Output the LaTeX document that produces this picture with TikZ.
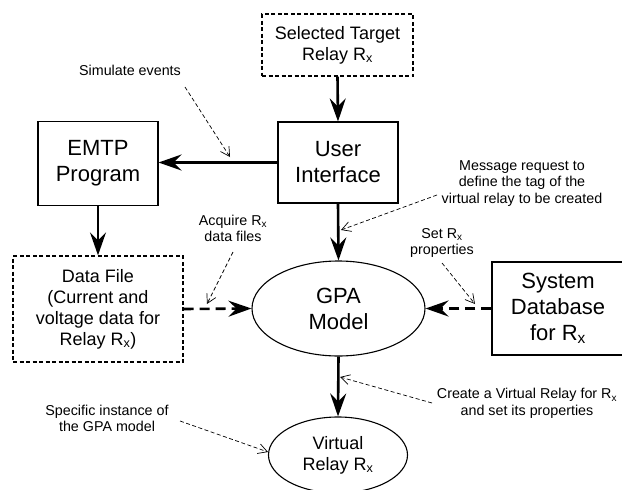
\documentclass[tikz,border=0pt]{standalone}
\usepackage{fontspec}
\setmainfont{Liberation Sans}
\usetikzlibrary{arrows.meta,shapes.geometric}
\begin{document}
\begin{tikzpicture}[x=1pt,y=-1pt,
  box/.style={draw,line width=1.1pt,inner sep=0pt,align=center},
  bigtext/.style={font=\fontsize{22}{26}\selectfont},
  midtext/.style={font=\fontsize{18}{21}\selectfont},
  notetext/.style={font=\fontsize{14.3}{16.6}\selectfont,align=center,inner sep=0pt},
  dbox/.style={box,dash pattern=on 4pt off 2.5pt,line width=1.3pt},
  oval/.style={draw,ellipse,line width=1.1pt,inner sep=0pt,align=center},
  mainarrow/.style={line width=2.6pt,-{Stealth[length=23pt,width=16pt,inset=8pt]}},
  dasharrow/.style={mainarrow,dash pattern=on 10pt off 6pt},
  notearrow/.style={line width=0.7pt,dash pattern=on 4pt off 2.5pt,-{Straight Barb[length=9pt,width=10pt,line width=0.7pt]}}
]
\useasboundingbox (0,0) rectangle (622,490);
\fill[white] (0,0) rectangle (622,490);

\node[dbox,midtext,minimum width=151pt,minimum height=62pt] (sel) at (337.5,45) {Selected Target\\Relay R\textsubscript{x}};
\node[box,bigtext,minimum width=120pt,minimum height=81pt] (ui) at (338,162.5) {User\\Interface};
\node[box,bigtext,minimum width=120pt,minimum height=84pt] (emtp) at (98,163.5) {EMTP\\Program};
\node[dbox,midtext,minimum width=170pt,minimum height=106pt] (data) at (98,309) {Data File\\(Current and\\voltage data for\\Relay R\textsubscript{x})};
\node[oval,bigtext,minimum width=173pt,minimum height=95pt] (gpa) at (338.5,308.5) {GPA\\Model};
\node[box,bigtext,minimum width=132pt,minimum height=93pt] (sys) at (558,308.5) {System\\Database\\for R\textsubscript{x}};
\node[oval,midtext,minimum width=139pt,minimum height=76pt] (vr) at (338,455) {Virtual\\Relay R\textsubscript{x}};

\draw[mainarrow] (sel.south) -- (ui.north);
\draw[mainarrow] (ui.west) -- (emtp.east |- ui.west);
\draw[mainarrow] (emtp.south) -- (data.north);
\draw[mainarrow] (ui.south) -- (gpa.north);
\draw[dasharrow] (data.east) -- (gpa.west);
\draw[dasharrow] (sys.west) -- (gpa.east);
\draw[mainarrow] (gpa.south) -- (vr.north);

\node[notetext] (n1) at (130,70) {Simulate events};
\node[notetext] (n2) at (233,228.5) {Acquire R\textsubscript{x}\\data files};
\node[notetext] (n3) at (522,183.5) {Message request to\\define the tag of the\\virtual relay to be created};
\node[notetext] (n4) at (442,243) {Set R\textsubscript{x}\\properties};
\node[notetext] (n5) at (527,403.5) {Create a Virtual Relay for R\textsubscript{x}\\and set its properties};
\node[notetext] (n6) at (107,418.5) {Specific instance of\\the GPA model};

\coordinate (a1s) at (185,87);  \coordinate (a1e) at (230,157);
\coordinate (a2s) at (233,252); \coordinate (a2e) at (207,304);
\coordinate (a3s) at (437,195); \coordinate (a3e) at (341,230);
\coordinate (a4s) at (442,263); \coordinate (a4e) at (475,304);
\coordinate (a5s) at (432,403); \coordinate (a5e) at (340,377);
\coordinate (a6s) at (180,421); \coordinate (a6e) at (268,452);

\draw[notearrow] (a1s) -- (a1e);
\draw[notearrow] (a2s) -- (a2e);
\draw[notearrow] (a3s) -- (a3e);
\draw[notearrow] (a4s) -- (a4e);
\draw[notearrow] (a5s) -- (a5e);
\draw[notearrow] (a6s) -- (a6e);
\end{tikzpicture}
\end{document}
